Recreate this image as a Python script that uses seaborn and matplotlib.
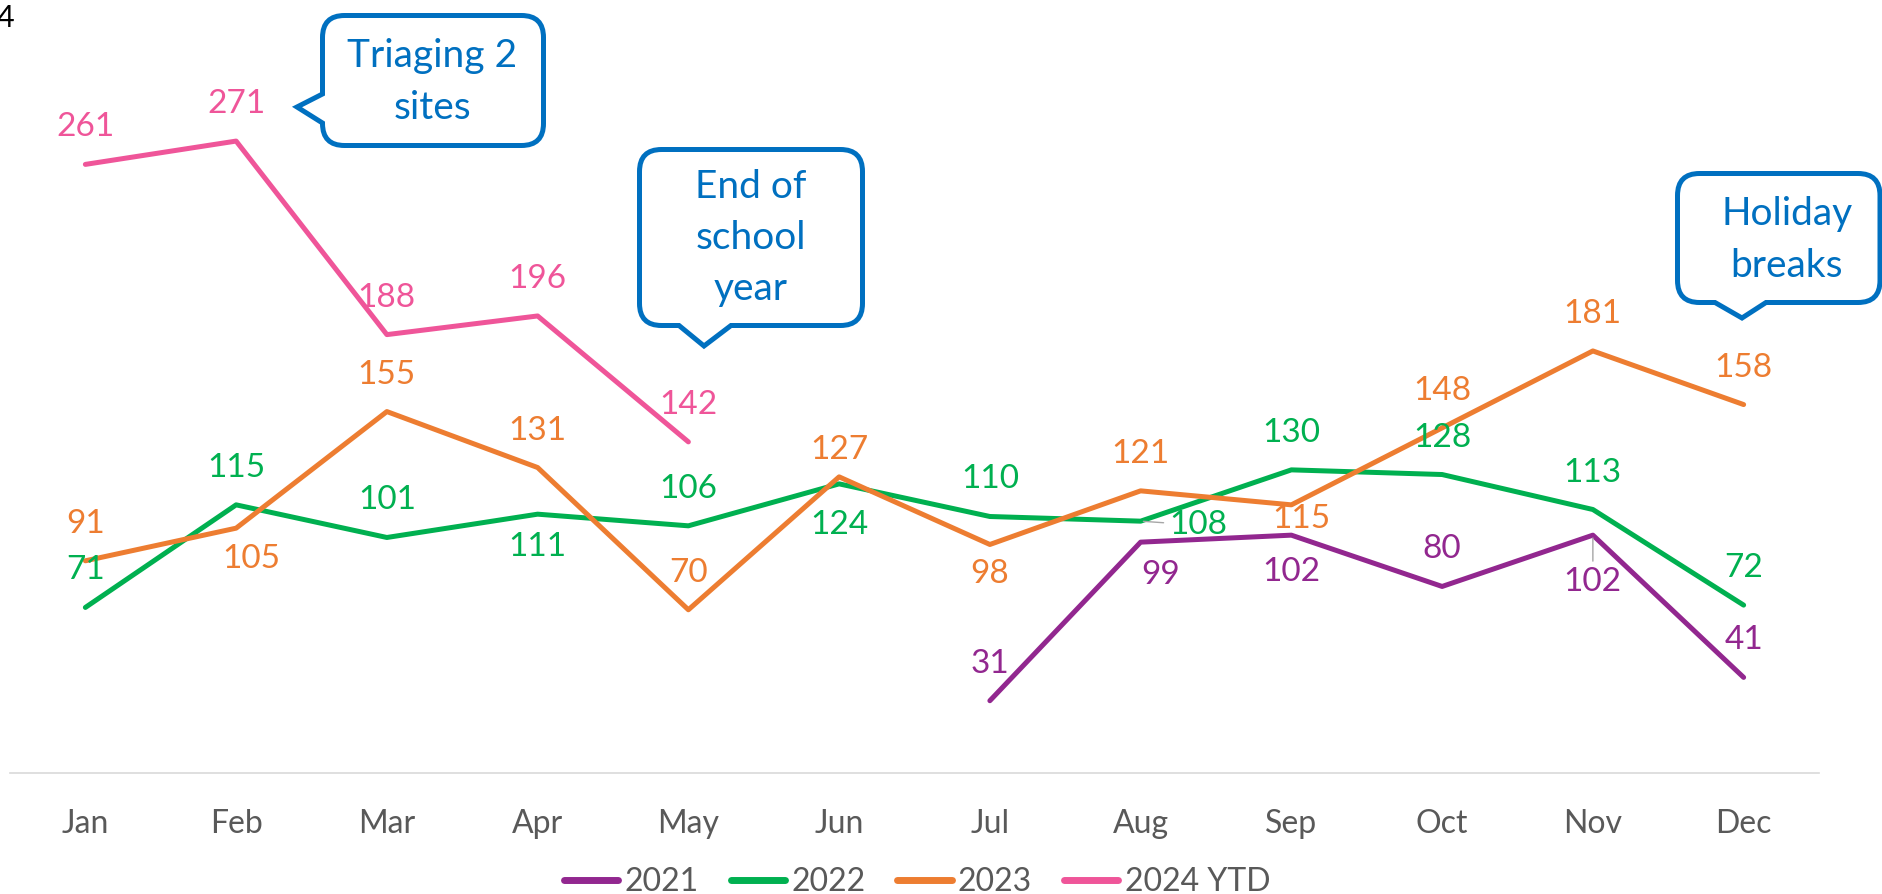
import matplotlib
matplotlib.use("Agg")
import matplotlib.pyplot as plt
import seaborn as sns
import pandas as pd
from matplotlib.path import Path
from matplotlib.patches import PathPatch

# data
months = ["Jan", "Feb", "Mar", "Apr", "May", "Jun",
          "Jul", "Aug", "Sep", "Oct", "Nov", "Dec"]
months_2021 = ["Jul", "Aug", "Sep", "Oct", "Nov", "Dec"]
vals_2021 = [31, 99, 102, 80, 102, 41]
vals_2022 = [71, 115, 101, 111, 106, 124, 110, 108, 130, 128, 113, 72]
vals_2023 = [91, 105, 155, 131, 70, 127, 98, 121, 115, 148, 181, 158]
months_2024 = ["Jan", "Feb", "Mar", "Apr", "May"]
vals_2024 = [261, 271, 188, 196, 142]
series_names = ["2021", "2022", "2023", "2024 YTD"]

callouts = ["Triaging 2\nsites", "End of\nschool\nyear", "Holiday\nbreaks"]

colors = {"2021": "#92278F", "2022": "#00B050",
          "2023": "#ED7D31", "2024 YTD": "#EF5599"}
BLUE = "#0070C0"
GREY = "#595959"

rows = []
for name, ms, vs in [("2021", months_2021, vals_2021),
                     ("2022", months, vals_2022),
                     ("2023", months, vals_2023),
                     ("2024 YTD", months_2024, vals_2024)]:
    for m, v in zip(ms, vs):
        rows.append({"series": name, "month": m, "idx": months.index(m), "value": v})
df = pd.DataFrame(rows)

# label offsets in pixels (dx, dy up); default is above the point
label_off = {
    ("2021", "Aug"): (20, -31), ("2021", "Sep"): (0, -35), ("2021", "Nov"): (0, -45),
    ("2022", "Apr"): (0, -31), ("2022", "Jun"): (0, -39), ("2022", "Aug"): (58, -2),
    ("2023", "Feb"): (15, -29), ("2023", "Jun"): (0, 29), ("2023", "Jul"): (0, -28),
    ("2023", "Sep"): (10, -12),
}
leaders = {("2022", "Aug"), ("2021", "Nov")}

sns.set_theme(style="white")
plt.rcParams["font.family"] = ["Lato", "DejaVu Sans"]

W, H = 1883, 894
fig = plt.figure(figsize=(W / 100, H / 100), dpi=100)
ax = fig.add_axes([10 / W, 121 / H, 1809 / W, 773 / H])

sns.lineplot(data=df, x="idx", y="value", hue="series", hue_order=series_names,
             palette=colors, linewidth=3.6, ax=ax, solid_capstyle="round")

for _, r in df.iterrows():
    dx, dy = label_off.get((r.series, r.month), (0, 39))
    kw = {}
    if (r.series, r.month) in leaders:
        kw["arrowprops"] = dict(arrowstyle="-", color="#A6A6A6", lw=1,
                                shrinkA=2, shrinkB=2)
    ax.annotate(str(r.value), (r.idx, r.value), xytext=(dx, dy - 2),
                textcoords="offset pixels", ha="center", va="center",
                fontsize=24, color=colors[r.series], **kw)

ax.set_xlim(-0.5, 11.5)
ax.set_ylim(0, 331.5)
ax.set_xticks(range(12))
ax.set_xticklabels(months)
ax.set_yticks([])
ax.set_xlabel("")
ax.set_ylabel("")
ax.tick_params(axis="x", length=0, pad=26, labelsize=23, labelcolor=GREY)
for s in ["top", "right", "left"]:
    ax.spines[s].set_visible(False)
ax.spines["bottom"].set_color("#D9D9D9")
ax.spines["bottom"].set_linewidth(1.2)

handles, labels = ax.get_legend_handles_labels()
ax.get_legend().remove()
leg = fig.legend(handles, labels, loc="center", bbox_to_anchor=(917 / W, 1 - 882 / H),
                 ncol=4, frameon=False, fontsize=23, handlelength=1.7,
                 handletextpad=0.2, columnspacing=1.0, borderpad=0)
for h in leg.legend_handles:
    h.set_linewidth(5)
for t in leg.get_texts():
    t.set_color(GREY)


def bubble(x0, y0, x1, y1, side, a, b, tip, r=22):
    # rounded box with a pointer, pixel coords measured from the top-left
    v = [(x0 + r, y0), (x1 - r, y0), (x1, y0), (x1, y0 + r), (x1, y1 - r),
         (x1, y1), (x1 - r, y1)]
    c = [Path.MOVETO, Path.LINETO, Path.CURVE3, Path.CURVE3, Path.LINETO,
         Path.CURVE3, Path.CURVE3]
    if side == "bottom":
        v += [(b, y1), tip, (a, y1)]
        c += [Path.LINETO] * 3
    v += [(x0 + r, y1), (x0, y1), (x0, y1 - r)]
    c += [Path.LINETO, Path.CURVE3, Path.CURVE3]
    if side == "left":
        v += [(x0, b), tip, (x0, a)]
        c += [Path.LINETO] * 3
    v += [(x0, y0 + r), (x0, y0), (x0 + r, y0), (x0 + r, y0)]
    c += [Path.LINETO, Path.CURVE3, Path.CURVE3, Path.CLOSEPOLY]
    v = [(x / W, 1 - y / H) for x, y in v]
    p = PathPatch(Path(v, c), transform=fig.transFigure, facecolor="white",
                  edgecolor=BLUE, lw=3.6, joinstyle="miter", zorder=5)
    fig.add_artist(p)


bubble(322.5, 15.5, 543.5, 145.5, "left", 94, 123, (297, 107))
bubble(639.5, 149.5, 862.5, 325.5, "bottom", 679, 731, (704, 346))
bubble(1677.5, 173.5, 1880, 302.5, "bottom", 1715, 1766, (1742, 318))

for txt, (x, y) in zip(callouts, [(432, 82), (751, 238), (1787, 240)]):
    fig.text(x / W, 1 - y / H, txt, ha="center", va="center", fontsize=28,
             color=BLUE, linespacing=1.52, zorder=6)

fig.text(-3 / W, 1 - 18 / H, "4", ha="left", va="center", fontsize=22, color="black")

fig.savefig("out.png", dpi=100)
